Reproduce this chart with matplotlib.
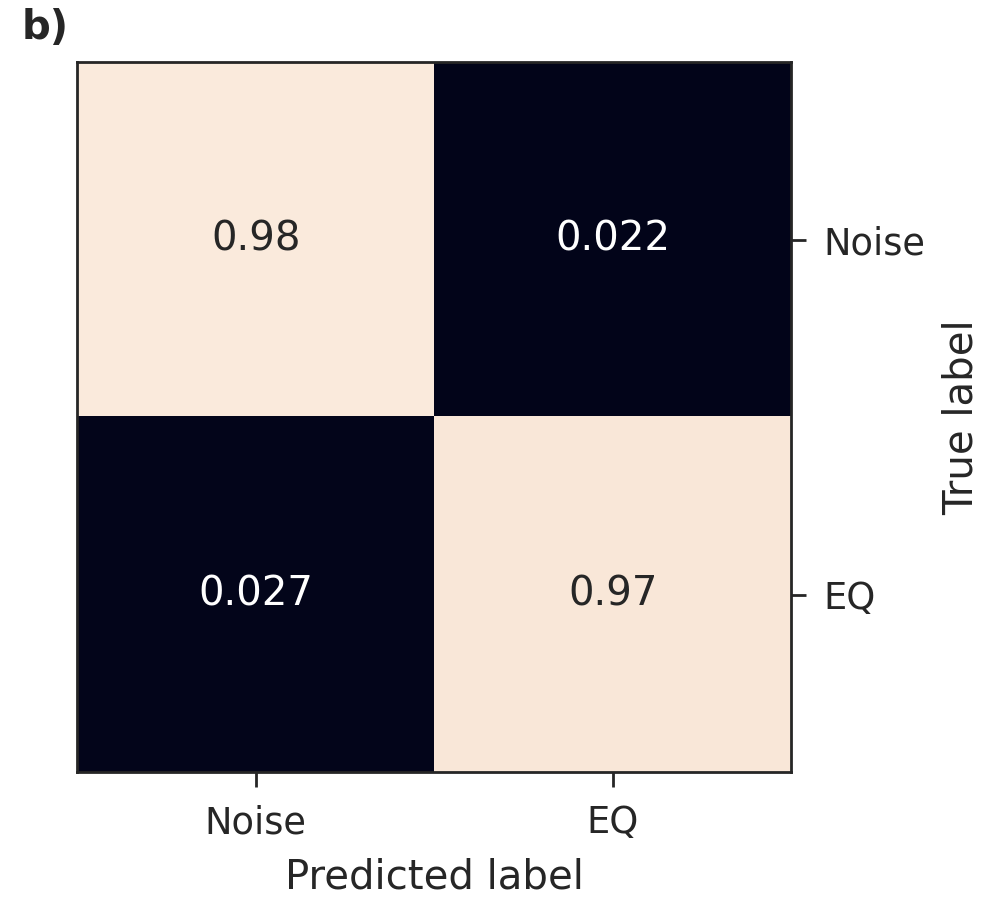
import numpy as np
import matplotlib
matplotlib.use("Agg")
import matplotlib.pyplot as plt
import seaborn as sns

# normalised confusion matrix (rows = true, cols = predicted)
classes = ["Noise", "EQ"]
cm = np.array([[0.98, 0.022],
               [0.027, 0.97]])

text_color = "#262626"

fig = plt.figure(figsize=(9.84, 8.98), dpi=100)
ax = fig.add_axes([0.0783, 0.140, 0.726, 0.791])

cmap = sns.color_palette("rocket", as_cmap=True)
ax.imshow(cm, cmap=cmap, vmin=cm.min(), vmax=cm.max(), aspect="auto")

thresh = (cm.max() + cm.min()) / 2
for i in range(cm.shape[0]):
    for j in range(cm.shape[1]):
        ax.text(j, i, f"{cm[i, j]:.2g}", ha="center", va="center",
                fontsize=29, color="white" if cm[i, j] < thresh else text_color)

ax.set_xticks(range(len(classes)))
ax.set_xticklabels(classes)
ax.set_yticks(range(len(classes)))
ax.set_yticklabels(classes)
ax.yaxis.tick_right()
ax.yaxis.set_label_position("right")
ax.tick_params(axis="both", direction="out", length=11, width=2,
               color=text_color, labelcolor=text_color, labelsize=26.5, pad=12)

ax.set_xlabel("Predicted label", fontsize=29, color=text_color, labelpad=12)
ax.set_ylabel("True label", fontsize=29, color=text_color, labelpad=12)

for spine in ax.spines.values():
    spine.set_linewidth(2)
    spine.set_color(text_color)

fig.text(0.022, 0.957, "b)", fontsize=29, fontweight="bold", color=text_color)

fig.savefig("out.png", dpi=100)
